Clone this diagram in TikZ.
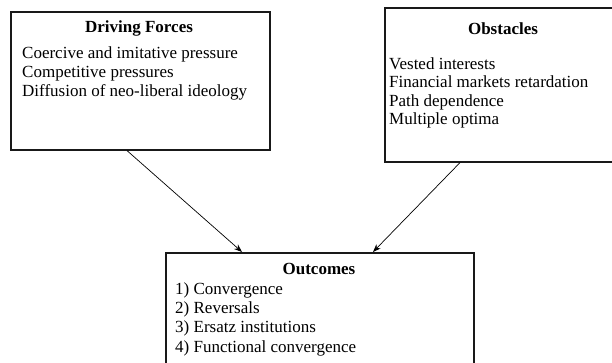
\documentclass[tikz,border=0pt]{standalone}
\usepackage{fontspec}
\setmainfont{Liberation Serif}
\usetikzlibrary{arrows.meta}
\begin{document}
\begin{tikzpicture}[x=1pt,y=-1pt,
  box/.style={draw=black!90,line width=1.6pt,inner sep=0pt,anchor=north west},
  ttl/.style={font=\fontsize{17}{19}\selectfont\bfseries,inner sep=0pt,anchor=base},
  itm/.style={font=\fontsize{17}{19}\selectfont,inner sep=0pt,anchor=base west},
  conn/.style={line width=0.7pt,-{Stealth[length=8pt,width=6pt]}}]
\clip (0,0) rectangle (612,363);
\fill[white] (0,0) rectangle (612,363);
% boxes
\node[box,minimum width=259pt,minimum height=138pt] (df) at (10,11) {};
\node[box,minimum width=245pt,minimum height=154pt] (ob) at (384,7) {};
\node[box,minimum width=308pt,minimum height=130pt] (oc) at (165,252) {};
% Driving forces
\node[ttl] (dft) at (139,33) {Driving Forces};
\node[itm] (df1) at (22,59) {Coercive and imitative pressure};
\node[itm] (df2) at (22,78) {Competitive pressures};
\node[itm] (df3) at (22,97) {Diffusion of neo-liberal ideology};
% Obstacles
\node[ttl] (obt) at (503,35) {Obstacles};
\node[itm] (ob1) at (389,70) {Vested interests};
\node[itm] (ob2) at (389,88) {Financial markets retardation};
\node[itm] (ob3) at (389,107) {Path dependence};
\node[itm] (ob4) at (389,125) {Multiple optima};
% Outcomes
\node[ttl] (oct) at (319,274) {Outcomes};
\node[itm] (oc1) at (175,294) {1) Convergence};
\node[itm] (oc2) at (175,313) {2) Reversals};
\node[itm] (oc3) at (175,332) {3) Ersatz institutions};
\node[itm] (oc4) at (175,352) {4) Functional convergence};
% connectors
\coordinate (a1) at ([xshift=117pt]df.south west);
\coordinate (a2) at ([xshift=77pt]oc.north west);
\coordinate (b1) at ([xshift=76pt]ob.south west);
\coordinate (b2) at ([xshift=208pt]oc.north west);
\draw[conn] (a1) -- (a2);
\draw[conn] (b1) -- (b2);
\end{tikzpicture}
\end{document}
